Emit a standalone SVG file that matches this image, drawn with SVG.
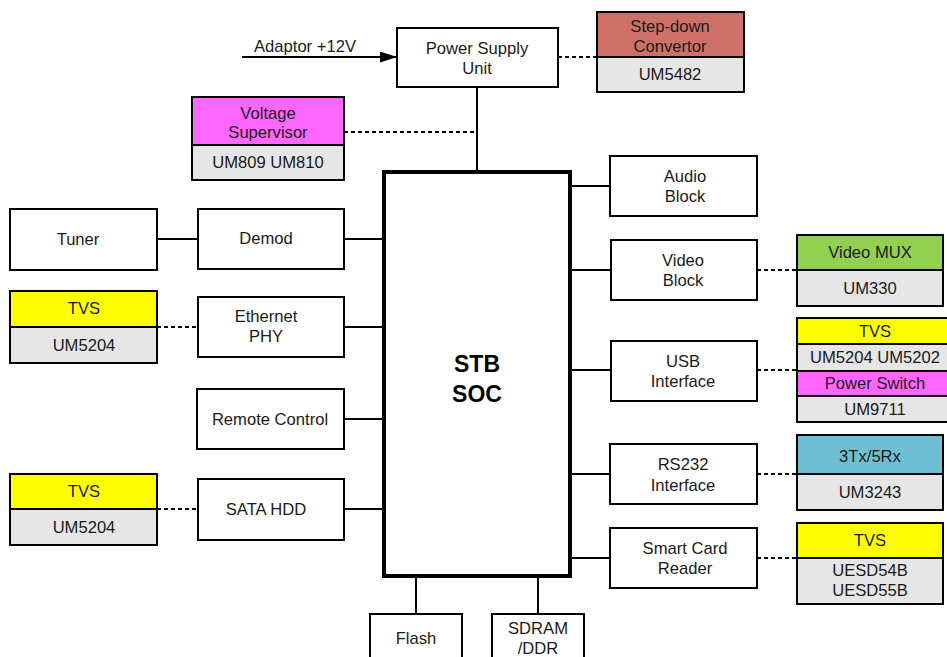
<svg xmlns="http://www.w3.org/2000/svg" width="947" height="657" viewBox="0 0 947 657">
<style>
text{font-family:"Liberation Sans",Arial,sans-serif;font-size:16.6px;fill:#1a1a1a;text-anchor:middle}
.b{fill:#fff;stroke:#000;stroke-width:2}
.g{fill:#e6e6e6;stroke:#000;stroke-width:2}
.ln{stroke:#000;stroke-width:2;fill:none}
.d{stroke:#000;stroke-width:2;fill:none;stroke-dasharray:4,3}
.soc{fill:#fff;stroke:#000;stroke-width:4}
.big{font-size:23px;font-weight:bold;fill:#000}
</style>
<defs>
<marker id="ah" markerWidth="17" markerHeight="11" refX="17" refY="5.5" orient="auto" markerUnits="userSpaceOnUse">
<polygon points="0,0 17,5.5 0,11" fill="#000"/>
</marker>
</defs>
<rect width="947" height="657" fill="#fff"/>
<g id="connectors">
<line class="ln" x1="242" y1="57" x2="397" y2="57" marker-end="url(#ah)"/>
<line class="d" x1="558" y1="57" x2="597" y2="57"/>
<line class="ln" x1="477" y1="87" x2="477" y2="172"/>
<line class="d" x1="344" y1="132" x2="477" y2="132"/>
<line class="ln" x1="157" y1="239" x2="198" y2="239"/>
<line class="ln" x1="344" y1="239" x2="384" y2="239"/>
<line class="d" x1="157" y1="327" x2="198" y2="327"/>
<line class="ln" x1="344" y1="327" x2="384" y2="327"/>
<line class="ln" x1="344" y1="419" x2="384" y2="419"/>
<line class="d" x1="157" y1="509" x2="198" y2="509"/>
<line class="ln" x1="344" y1="509" x2="384" y2="509"/>
<line class="ln" x1="570" y1="186" x2="610" y2="186"/>
<line class="ln" x1="570" y1="270" x2="610" y2="270"/>
<line class="d" x1="757" y1="270" x2="797" y2="270"/>
<line class="ln" x1="570" y1="370" x2="610" y2="370"/>
<line class="d" x1="757" y1="370" x2="797" y2="370"/>
<line class="ln" x1="570" y1="474" x2="610" y2="474"/>
<line class="d" x1="757" y1="474" x2="797" y2="474"/>
<line class="ln" x1="570" y1="558" x2="610" y2="558"/>
<line class="d" x1="757" y1="558" x2="797" y2="558"/>
<line class="ln" x1="416" y1="576" x2="416" y2="614"/>
<line class="ln" x1="538" y1="576" x2="538" y2="614"/>
</g>
<text x="305" y="52">Adaptor +12V</text>
<g id="psu">
<rect class="b" x="397" y="28" width="161" height="59"/>
<text x="477" y="54">Power Supply</text>
<text x="477" y="74">Unit</text>
</g>
<g id="stepdown">
<rect x="597" y="12" width="147" height="45" fill="#cd7068" stroke="#000" stroke-width="2"/>
<rect class="g" x="597" y="57" width="147" height="35"/>
<text x="670" y="31.5">Step-down</text>
<text x="670" y="51.5">Convertor</text>
<text x="670" y="80">UM5482</text>
</g>
<g id="supervisor">
<rect x="192" y="97" width="152" height="48" fill="#ff66ff" stroke="#000" stroke-width="2"/>
<rect class="g" x="192" y="145" width="152" height="35"/>
<text x="268" y="118.5">Voltage</text>
<text x="268" y="138">Supervisor</text>
<text x="268" y="168">UM809 UM810</text>
</g>
<g id="soc">
<rect class="soc" x="384" y="172" width="186" height="404"/>
<text class="big" x="477" y="372">STB</text>
<text class="big" x="477" y="402">SOC</text>
</g>
<g id="tuner">
<rect class="b" x="10" y="209" width="147" height="61"/>
<text x="78" y="245">Tuner</text>
</g>
<g id="demod">
<rect class="b" x="198" y="209" width="146" height="60"/>
<text x="266" y="244">Demod</text>
</g>
<g id="tvs-eth">
<rect x="10" y="291" width="147" height="36" fill="#ffff00" stroke="#000" stroke-width="2"/>
<rect class="g" x="10" y="327" width="147" height="36"/>
<text x="84" y="314">TVS</text>
<text x="84" y="351">UM5204</text>
</g>
<g id="ethernet">
<rect class="b" x="198" y="297" width="146" height="60"/>
<text x="266" y="322">Ethernet</text>
<text x="266" y="342">PHY</text>
</g>
<g id="remote">
<rect class="b" x="197" y="389" width="147" height="60"/>
<text x="270" y="425">Remote Control</text>
</g>
<g id="tvs-sata">
<rect x="10" y="474" width="147" height="35" fill="#ffff00" stroke="#000" stroke-width="2"/>
<rect class="g" x="10" y="509" width="147" height="36"/>
<text x="84" y="497">TVS</text>
<text x="84" y="533">UM5204</text>
</g>
<g id="sata">
<rect class="b" x="198" y="479" width="146" height="61"/>
<text x="266" y="515">SATA HDD</text>
</g>
<g id="audio">
<rect class="b" x="610" y="156" width="147" height="60"/>
<text x="685" y="182">Audio</text>
<text x="685" y="202">Block</text>
</g>
<g id="video">
<rect class="b" x="611" y="240" width="146" height="60"/>
<text x="683" y="266">Video</text>
<text x="683" y="286">Block</text>
</g>
<g id="videomux">
<rect x="797" y="235" width="146" height="35" fill="#92d050" stroke="#000" stroke-width="2"/>
<rect class="g" x="797" y="270" width="146" height="36"/>
<text x="870" y="258">Video MUX</text>
<text x="870" y="294">UM330</text>
</g>
<g id="usb">
<rect class="b" x="611" y="341" width="146" height="60"/>
<text x="683" y="367">USB</text>
<text x="683" y="387">Interface</text>
</g>
<g id="usb-parts">
<rect x="797" y="318" width="156" height="26" fill="#ffff00" stroke="#000" stroke-width="2"/>
<rect class="g" x="797" y="344" width="156" height="27"/>
<rect x="797" y="371" width="156" height="25" fill="#ff66ff" stroke="#000" stroke-width="2"/>
<rect class="g" x="797" y="396" width="156" height="26"/>
<text x="875" y="337">TVS</text>
<text x="875" y="363">UM5204 UM5202</text>
<text x="875" y="389">Power Switch</text>
<text x="875" y="415">UM9711</text>
</g>
<g id="rs232">
<rect class="b" x="610" y="444" width="147" height="60"/>
<text x="683" y="470">RS232</text>
<text x="683" y="491">Interface</text>
</g>
<g id="rs232-parts">
<rect x="797" y="435" width="146" height="39" fill="#6fbfd3" stroke="#000" stroke-width="2"/>
<rect class="g" x="797" y="474" width="146" height="36"/>
<text x="870" y="462">3Tx/5Rx</text>
<text x="870" y="498">UM3243</text>
</g>
<g id="smartcard">
<rect class="b" x="610" y="528" width="147" height="60"/>
<text x="685" y="554">Smart Card</text>
<text x="685" y="574">Reader</text>
</g>
<g id="smartcard-parts">
<rect x="797" y="523" width="146" height="35" fill="#ffff00" stroke="#000" stroke-width="2"/>
<rect class="g" x="797" y="558" width="146" height="46"/>
<text x="870" y="546">TVS</text>
<text x="870" y="576">UESD54B</text>
<text x="870" y="596">UESD55B</text>
</g>
<g id="flash">
<rect class="b" x="370" y="614" width="92" height="60"/>
<text x="416" y="644">Flash</text>
</g>
<g id="sdram">
<rect class="b" x="492" y="614" width="92" height="60"/>
<text x="538" y="634">SDRAM</text>
<text x="538" y="654">/DDR</text>
</g>
</svg>
